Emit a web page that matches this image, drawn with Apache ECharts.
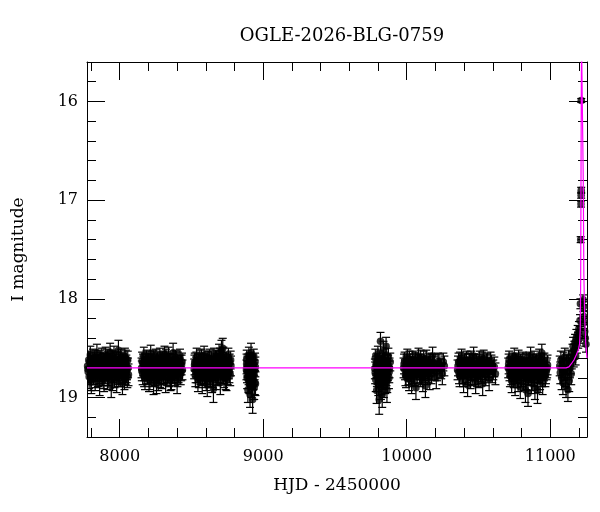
<!DOCTYPE html>
<html>
<head>
<meta charset="utf-8">
<script src="https://cdn.jsdelivr.net/npm/echarts@6/dist/echarts.min.js"></script>
<style>html,body{margin:0;padding:0;background:#fff}#c{width:600px;height:512px}</style>
</head>
<body>
<div id="c"></div>
<script>
// ---- data: [HJD-2450000, I mag, error] ----
const season1 = [[7776,18.68,0.10],[7780,18.74,0.11],[7784,18.62,0.09],[7787,18.79,0.12],[7791,18.70,0.10],[7795,18.57,0.09],[7799,18.82,0.11],[7802,18.84,0.12],[7806,18.66,0.09],[7810,18.71,0.10],[7814,18.60,0.09],[7818,18.76,0.11],[7822,18.69,0.10],[7825,18.63,0.09],[7829,18.81,0.12],[7833,18.73,0.10],[7837,18.67,0.10],[7841,18.55,0.09],[7845,18.72,0.11],[7848,18.78,0.11],[7852,18.65,0.09],[7856,18.70,0.10],[7860,18.86,0.12],[7864,18.61,0.09],[7868,18.74,0.10],[7871,18.68,0.10],[7875,18.59,0.09],[7879,18.77,0.11],[7883,18.71,0.10],[7887,18.64,0.09],[7891,18.82,0.12],[7894,18.69,0.10],[7898,18.75,0.11],[7902,18.58,0.09],[7906,18.66,0.10],[7910,18.73,0.10],[7914,18.80,0.12],[7918,18.62,0.09],[7921,18.70,0.10],[7925,18.77,0.11],[7929,18.65,0.10],[7933,18.54,0.09],[7937,18.72,0.10],[7941,18.88,0.12],[7945,18.68,0.10],[7948,18.61,0.09],[7952,18.74,0.11],[7956,18.70,0.10],[7960,18.57,0.09],[7964,18.79,0.11],[7968,18.66,0.10],[7972,18.72,0.10],[7975,18.63,0.09],[7979,18.83,0.12],[7983,18.69,0.10],[7987,18.76,0.11],[7991,18.52,0.10],[7995,18.71,0.10],[7999,18.65,0.09],[8003,18.78,0.11],[8007,18.60,0.09],[8011,18.73,0.10],[8015,18.68,0.10],[8019,18.85,0.12],[8023,18.64,0.09],[8027,18.74,0.11],[8031,18.70,0.10],[8036,18.59,0.09],[8041,18.76,0.11],[8046,18.67,0.10],[8051,18.72,0.10],[8056,18.62,0.09],[8061,18.77,0.11]];
const season1b = [[7778,18.71,0.10],[7789,18.64,0.09],[7797,18.76,0.11],[7808,18.68,0.10],[7816,18.73,0.10],[7827,18.61,0.09],[7835,18.79,0.11],[7843,18.70,0.10],[7850,18.66,0.10],[7858,18.75,0.11],[7866,18.63,0.09],[7877,18.72,0.10],[7885,18.80,0.11],[7896,18.65,0.10],[7904,18.71,0.10],[7912,18.60,0.09],[7920,18.77,0.11],[7927,18.69,0.10],[7935,18.64,0.09],[7943,18.74,0.10],[7950,18.81,0.12],[7958,18.67,0.10],[7966,18.62,0.09],[7977,18.73,0.10],[7985,18.68,0.10],[7993,18.78,0.11],[8001,18.70,0.10],[8009,18.63,0.09],[8017,18.75,0.11],[8025,18.66,0.10],[8033,18.80,0.12],[8038,18.69,0.10],[8043,18.61,0.09],[8048,18.74,0.11],[8053,18.79,0.11],[8058,18.70,0.10]];
const season2 = [[8152,18.70,0.10],[8156,18.63,0.09],[8160,18.76,0.11],[8164,18.68,0.10],[8168,18.58,0.09],[8172,18.73,0.10],[8176,18.80,0.12],[8180,18.66,0.10],[8184,18.71,0.10],[8188,18.61,0.09],[8192,18.75,0.11],[8196,18.69,0.10],[8200,18.64,0.09],[8204,18.82,0.12],[8208,18.72,0.10],[8212,18.67,0.10],[8216,18.56,0.09],[8220,18.74,0.11],[8224,18.78,0.11],[8228,18.65,0.09],[8232,18.70,0.10],[8236,18.85,0.12],[8240,18.62,0.09],[8244,18.73,0.10],[8248,18.68,0.10],[8252,18.60,0.09],[8256,18.86,0.10],[8260,18.71,0.10],[8264,18.63,0.09],[8268,18.81,0.12],[8272,18.69,0.10],[8276,18.75,0.11],[8280,18.59,0.09],[8284,18.66,0.10],[8288,18.72,0.10],[8292,18.79,0.12],[8296,18.62,0.09],[8300,18.70,0.10],[8304,18.76,0.11],[8308,18.65,0.10],[8312,18.57,0.09],[8316,18.71,0.10],[8320,18.83,0.12],[8324,18.67,0.10],[8328,18.62,0.09],[8332,18.74,0.11],[8336,18.70,0.10],[8340,18.58,0.09],[8344,18.78,0.11],[8348,18.66,0.10],[8352,18.72,0.10],[8356,18.64,0.09],[8360,18.80,0.12],[8364,18.69,0.10],[8368,18.75,0.11],[8372,18.55,0.10],[8376,18.71,0.10],[8380,18.65,0.09],[8384,18.77,0.11],[8388,18.61,0.09],[8392,18.73,0.10],[8396,18.68,0.10],[8400,18.84,0.12],[8405,18.63,0.09],[8410,18.74,0.11],[8415,18.70,0.10],[8420,18.60,0.09],[8425,18.76,0.11],[8431,18.67,0.10],[8437,18.72,0.10]];
const season2b = [[8154,18.73,0.10],[8162,18.65,0.09],[8170,18.78,0.11],[8178,18.70,0.10],[8186,18.62,0.09],[8194,18.76,0.11],[8202,18.68,0.10],[8210,18.80,0.12],[8218,18.66,0.10],[8226,18.72,0.10],[8234,18.61,0.09],[8242,18.77,0.11],[8250,18.70,0.10],[8258,18.64,0.09],[8266,18.74,0.11],[8274,18.67,0.10],[8282,18.79,0.11],[8290,18.71,0.10],[8298,18.63,0.09],[8306,18.75,0.11],[8314,18.68,0.10],[8322,18.60,0.09],[8330,18.77,0.11],[8338,18.72,0.10],[8346,18.65,0.09],[8354,18.81,0.12],[8362,18.70,0.10],[8370,18.66,0.10],[8378,18.74,0.11],[8386,18.69,0.10],[8394,18.62,0.09],[8402,18.78,0.11],[8412,18.71,0.10],[8422,18.67,0.10],[8428,18.73,0.10],[8434,18.64,0.09]];
const season3 = [[8519,18.71,0.10],[8523,18.64,0.09],[8527,18.78,0.11],[8532,18.69,0.10],[8536,18.59,0.09],[8540,18.74,0.11],[8545,18.82,0.12],[8549,18.66,0.10],[8553,18.72,0.10],[8558,18.61,0.09],[8562,18.76,0.11],[8566,18.70,0.10],[8571,18.64,0.09],[8575,18.84,0.12],[8579,18.73,0.10],[8584,18.67,0.10],[8588,18.57,0.09],[8592,18.75,0.11],[8597,18.79,0.11],[8601,18.65,0.09],[8605,18.71,0.10],[8610,18.87,0.12],[8614,18.62,0.09],[8618,18.74,0.10],[8623,18.68,0.10],[8627,18.60,0.09],[8631,18.78,0.11],[8636,18.72,0.10],[8640,18.63,0.09],[8644,18.83,0.12],[8649,18.69,0.10],[8653,18.91,0.14],[8657,18.59,0.09],[8662,18.66,0.10],[8666,18.73,0.10],[8670,18.80,0.12],[8675,18.62,0.09],[8679,18.70,0.10],[8683,18.77,0.11],[8688,18.65,0.10],[8692,18.55,0.09],[8696,18.71,0.10],[8701,18.85,0.12],[8705,18.67,0.10],[8709,18.52,0.10],[8714,18.75,0.11],[8718,18.50,0.10],[8722,18.58,0.09],[8727,18.79,0.11],[8731,18.66,0.10],[8735,18.72,0.10],[8740,18.63,0.09],[8744,18.81,0.12],[8748,18.69,0.10],[8753,18.76,0.11],[8757,18.60,0.10],[8761,18.71,0.10],[8766,18.65,0.09],[8770,18.77,0.11],[8775,18.68,0.10]];
const season3b = [[8521,18.67,0.10],[8529,18.74,0.11],[8534,18.63,0.09],[8543,18.70,0.10],[8551,18.79,0.11],[8556,18.66,0.10],[8564,18.73,0.10],[8569,18.60,0.09],[8577,18.77,0.11],[8582,18.69,0.10],[8590,18.64,0.09],[8595,18.72,0.10],[8603,18.81,0.12],[8608,18.67,0.10],[8616,18.70,0.10],[8621,18.62,0.09],[8629,18.76,0.11],[8634,18.68,0.10],[8642,18.73,0.10],[8647,18.79,0.11],[8655,18.65,0.10],[8660,18.71,0.10],[8668,18.61,0.09],[8673,18.76,0.11],[8681,18.69,0.10],[8686,18.74,0.11],[8694,18.66,0.10],[8699,18.59,0.09],[8707,18.72,0.10],[8712,18.68,0.10],[8720,18.63,0.09],[8725,18.75,0.11],[8733,18.70,0.10],[8738,18.80,0.12],[8746,18.64,0.09],[8751,18.71,0.10],[8759,18.67,0.10],[8764,18.74,0.11],[8773,18.62,0.09]];
const season4 = [[8883,18.72,0.10],[8885,18.61,0.09],[8888,18.80,0.11],[8890,18.68,0.10],[8893,18.92,0.13],[8895,18.65,0.09],[8898,18.76,0.11],[8900,18.58,0.09],[8903,18.84,0.12],[8905,18.70,0.10],[8908,18.97,0.13],[8910,18.63,0.09],[8913,18.78,0.11],[8915,18.55,0.10],[8918,18.88,0.12],[8920,18.69,0.10],[8923,18.74,0.11],[8926,19.02,0.14],[8928,18.66,0.10],[8931,18.81,0.11],[8934,18.60,0.09],[8937,18.90,0.12],[8940,18.72,0.10],[8943,18.64,0.09],[8946,18.86,0.12]];
const season4b = [[8884,18.66,0.10],[8887,18.74,0.11],[8892,18.70,0.10],[8897,18.83,0.12],[8902,18.64,0.09],[8907,18.77,0.11],[8912,18.71,0.10],[8917,18.68,0.10],[8922,18.80,0.11],[8927,18.73,0.10],[8932,18.67,0.10],[8936,18.76,0.11],[8941,18.85,0.12],[8945,18.69,0.10]];
const season5 = [[9778,18.71,0.10],[9781,18.60,0.09],[9784,18.82,0.12],[9787,18.68,0.10],[9790,18.93,0.13],[9793,18.64,0.09],[9796,18.76,0.11],[9799,18.57,0.09],[9802,18.86,0.12],[9805,18.70,0.10],[9808,19.02,0.15],[9811,18.62,0.09],[9814,18.79,0.11],[9817,18.43,0.09],[9820,18.90,0.12],[9823,18.67,0.10],[9826,18.74,0.11],[9829,18.97,0.13],[9832,18.65,0.10],[9835,18.81,0.11],[9838,18.52,0.09],[9841,18.88,0.12],[9844,18.72,0.10],[9847,18.63,0.09],[9850,18.84,0.12],[9853,18.69,0.10],[9856,18.48,0.09],[9859,18.77,0.11],[9862,18.92,0.13],[9865,18.66,0.10],[9868,18.73,0.10],[9872,18.59,0.09],[9876,18.80,0.11],[9880,18.70,0.10],[9885,18.64,0.09]];
const season5b = [[9780,18.75,0.11],[9786,18.66,0.10],[9792,18.78,0.11],[9798,18.70,0.10],[9804,18.82,0.12],[9810,18.69,0.10],[9816,18.74,0.11],[9822,18.85,0.12],[9828,18.68,0.10],[9834,18.72,0.10],[9840,18.79,0.11],[9846,18.66,0.10],[9852,18.76,0.11],[9858,18.71,0.10],[9864,18.83,0.12],[9870,18.67,0.10],[9878,18.74,0.11]];
const season6 = [[9978,18.70,0.10],[9985,18.63,0.09],[9991,18.77,0.11],[9998,18.68,0.10],[10004,18.60,0.09],[10010,18.73,0.10],[10016,18.81,0.12],[10022,18.66,0.10],[10028,18.71,0.10],[10034,18.85,0.11],[10040,18.62,0.09],[10046,18.75,0.11],[10052,18.69,0.10],[10058,18.64,0.09],[10064,18.90,0.12],[10070,18.72,0.10],[10076,18.67,0.10],[10082,18.59,0.09],[10088,18.74,0.11],[10094,18.78,0.11],[10100,18.65,0.09],[10106,18.70,0.10],[10112,18.82,0.12],[10118,18.62,0.09],[10124,18.73,0.10],[10130,18.88,0.12],[10136,18.61,0.09],[10142,18.76,0.11],[10148,18.71,0.10],[10154,18.64,0.09],[10160,18.80,0.12],[10166,18.69,0.10],[10172,18.75,0.11],[10180,18.58,0.09],[10188,18.66,0.10],[10196,18.73,0.10],[10206,18.79,0.12],[10218,18.64,0.09],[10232,18.70,0.10],[10248,18.76,0.11],[10262,18.68,0.10]];
const season6b = [[9981,18.66,0.10],[9988,18.72,0.10],[9995,18.79,0.11],[10001,18.65,0.09],[10007,18.70,0.10],[10013,18.76,0.11],[10019,18.62,0.09],[10025,18.74,0.10],[10031,18.68,0.10],[10037,18.78,0.11],[10043,18.66,0.10],[10049,18.71,0.10],[10055,18.77,0.11],[10061,18.63,0.09],[10067,18.69,0.10],[10073,18.75,0.11],[10079,18.70,0.10],[10085,18.66,0.10],[10091,18.72,0.10],[10097,18.61,0.09],[10103,18.76,0.11],[10109,18.68,0.10],[10115,18.73,0.10],[10121,18.67,0.10],[10127,18.71,0.10],[10139,18.69,0.10],[10151,18.74,0.11],[10163,18.65,0.09],[10176,18.72,0.10],[10192,18.68,0.10],[10212,18.73,0.10],[10225,18.66,0.10],[10240,18.71,0.10],[10255,18.64,0.09]];
const season7 = [[10354,18.72,0.10],[10361,18.64,0.09],[10368,18.78,0.11],[10375,18.69,0.10],[10382,18.60,0.09],[10389,18.75,0.11],[10396,18.83,0.12],[10403,18.66,0.10],[10410,18.71,0.10],[10417,18.62,0.09],[10424,18.87,0.12],[10431,18.70,0.10],[10438,18.64,0.09],[10445,18.80,0.11],[10452,18.73,0.10],[10459,18.67,0.10],[10466,18.58,0.09],[10473,18.76,0.11],[10480,18.84,0.12],[10487,18.65,0.09],[10494,18.70,0.10],[10501,18.79,0.11],[10508,18.62,0.09],[10515,18.74,0.10],[10522,18.68,0.10],[10529,18.86,0.12],[10536,18.61,0.09],[10543,18.72,0.10],[10550,18.77,0.11],[10557,18.66,0.10],[10565,18.70,0.10],[10574,18.81,0.12],[10584,18.63,0.09],[10596,18.74,0.11],[10610,18.69,0.10],[10618,18.76,0.11]];
const season7b = [[10357,18.68,0.10],[10364,18.75,0.11],[10371,18.63,0.09],[10378,18.71,0.10],[10385,18.67,0.10],[10392,18.78,0.11],[10399,18.70,0.10],[10406,18.64,0.09],[10413,18.74,0.11],[10420,18.69,0.10],[10427,18.76,0.11],[10434,18.66,0.10],[10441,18.72,0.10],[10448,18.62,0.09],[10455,18.77,0.11],[10462,18.70,0.10],[10469,18.65,0.09],[10476,18.73,0.10],[10483,18.68,0.10],[10490,18.78,0.11],[10497,18.71,0.10],[10504,18.66,0.10],[10511,18.69,0.10],[10518,18.75,0.11],[10525,18.63,0.09],[10532,18.72,0.10],[10539,18.67,0.10],[10546,18.74,0.11],[10553,18.69,0.10],[10561,18.64,0.09],[10570,18.73,0.10],[10579,18.70,0.10],[10590,18.67,0.10],[10603,18.72,0.10]];
const season8 = [[10707,18.70,0.10],[10713,18.62,0.09],[10719,18.78,0.11],[10725,18.68,0.10],[10731,18.83,0.12],[10737,18.64,0.09],[10743,18.74,0.10],[10749,18.59,0.09],[10755,18.86,0.12],[10761,18.70,0.10],[10767,18.66,0.10],[10773,18.79,0.11],[10779,18.61,0.09],[10785,18.73,0.10],[10791,18.89,0.12],[10797,18.68,0.10],[10803,18.75,0.11],[10809,18.63,0.09],[10815,18.81,0.12],[10821,18.70,0.10],[10827,18.92,0.13],[10833,18.65,0.10],[10839,18.76,0.11],[10845,18.96,0.13],[10851,18.67,0.10],[10857,18.72,0.10],[10863,18.58,0.09],[10869,18.84,0.12],[10875,18.69,0.10],[10881,18.77,0.11],[10887,18.62,0.09],[10893,18.90,0.12],[10899,18.71,0.10],[10905,18.66,0.10],[10911,18.93,0.13],[10917,18.74,0.11],[10923,18.60,0.09],[10929,18.80,0.12],[10935,18.68,0.10],[10941,18.55,0.09],[10947,18.85,0.12],[10953,18.70,0.10],[10959,18.64,0.09],[10966,18.78,0.11],[10974,18.72,0.10],[10981,18.67,0.10]];
const season8b = [[10710,18.66,0.10],[10716,18.73,0.10],[10722,18.69,0.10],[10728,18.76,0.11],[10734,18.71,0.10],[10740,18.67,0.10],[10746,18.79,0.11],[10752,18.72,0.10],[10758,18.64,0.09],[10764,18.75,0.11],[10770,18.70,0.10],[10776,18.82,0.12],[10782,18.68,0.10],[10788,18.74,0.11],[10794,18.65,0.09],[10800,18.78,0.11],[10806,18.71,0.10],[10812,18.69,0.10],[10818,18.76,0.11],[10824,18.66,0.10],[10830,18.73,0.10],[10836,18.80,0.12],[10842,18.70,0.10],[10848,18.77,0.11],[10854,18.63,0.09],[10860,18.74,0.11],[10866,18.69,0.10],[10872,18.81,0.12],[10878,18.66,0.10],[10884,18.72,0.10],[10890,18.78,0.11],[10896,18.67,0.10],[10902,18.74,0.11],[10908,18.70,0.10],[10914,18.83,0.12],[10920,18.69,0.10],[10926,18.75,0.11],[10932,18.64,0.09],[10938,18.72,0.10],[10944,18.78,0.11],[10950,18.66,0.10],[10956,18.73,0.10],[10962,18.69,0.10],[10970,18.75,0.11],[10978,18.70,0.10]];
const season9 = [[11066,18.68,0.10],[11070,18.75,0.11],[11074,18.62,0.09],[11079,18.80,0.12],[11083,18.70,0.10],[11088,18.85,0.12],[11092,18.64,0.10],[11097,18.73,0.10],[11101,18.59,0.09],[11106,18.78,0.11],[11110,18.88,0.12],[11115,18.67,0.10],[11119,18.72,0.10],[11123,18.92,0.12],[11128,18.61,0.09],[11132,18.83,0.11],[11137,18.70,0.10],[11141,18.66,0.10],[11146,18.76,0.11],[11150,18.62,0.09],[11155,18.55,0.09],[11159,18.48,0.09],[11164,18.60,0.09],[11168,18.52,0.09],[11173,18.44,0.08],[11177,18.58,0.09],[11182,18.39,0.08],[11186,18.47,0.08],[11191,18.35,0.08],[11195,18.42,0.08],[11200,18.30,0.07],[11204,18.38,0.07],[11207,18.22,0.06],[11210,18.05,0.05],[11212,17.40,0.03],[11214,17.04,0.03],[11215,16.95,0.03],[11215.5,16.90,0.03],[11216,15.99,0.02],[11229,18.01,0.05],[11231,18.08,0.05],[11234,18.18,0.06],[11237,18.24,0.06],[11240,18.33,0.07],[11244,18.40,0.08],[11249,18.46,0.08]];

// model light curve (magenta)
const modelCurve = [[7772,18.70],[11110,18.70],[11130,18.69],[11146,18.66],[11165,18.62],[11181,18.57],[11195,18.52],[11204,18.46],[11209,18.30],[11212,17.80],[11214,16.90],[11216,16.00],[11218,15.40],[11226,15.40],[11230,16.80],[11234,17.75],[11240,18.20],[11247,18.45],[11256,18.60]];

// axis ticks
const xMajorTicks = [8000, 9000, 10000, 11000];
const xMinorTicks = [7800, 8200, 8400, 8600, 8800, 9200, 9400, 9600, 9800, 10200, 10400, 10600, 10800, 11200];
const yMajorTicks = [16, 17, 18, 19];
const yMinorTicks = [15.8, 16.2, 16.4, 16.6, 16.8, 17.2, 17.4, 17.6, 17.8, 18.2, 18.4, 18.6, 18.8, 19.2];

const X_MIN = 7772, X_MAX = 11256, Y_MIN = 15.6, Y_MAX = 19.4;
const FONT = 'DejaVu Serif';

const points = [].concat(season1, season1b, season2, season2b, season3, season3b, season4, season4b,
  season5, season5b, season6, season6b, season7, season7b, season8, season8b, season9);

function xAx(pos, ticks, len, showLine, labels) {
  return {
    type: 'value', position: pos, min: X_MIN, max: X_MAX,
    axisLine: { show: showLine, onZero: false, lineStyle: { color: '#000', width: 1 } },
    axisTick: { show: true, inside: true, length: len, customValues: ticks, lineStyle: { color: '#000', width: 1 } },
    axisLabel: labels ? { show: true, customValues: ticks, formatter: v => String(v), color: '#000', fontFamily: FONT, fontSize: 16, margin: 12 } : { show: false },
    splitLine: { show: false },
    name: labels ? 'HJD - 2450000' : '',
    nameLocation: 'middle', nameGap: 40,
    nameTextStyle: { color: '#000', fontFamily: FONT, fontSize: 17 }
  };
}
function yAx(pos, ticks, len, showLine, labels) {
  return {
    type: 'value', position: pos, min: Y_MIN, max: Y_MAX, inverse: true,
    axisLine: { show: showLine, onZero: false, lineStyle: { color: '#000', width: 1 } },
    axisTick: { show: true, inside: true, length: len, customValues: ticks, lineStyle: { color: '#000', width: 1 } },
    axisLabel: labels ? { show: true, customValues: ticks, formatter: v => String(v), color: '#000', fontFamily: FONT, fontSize: 16, margin: 9 } : { show: false },
    splitLine: { show: false },
    name: labels ? 'I magnitude' : '',
    nameLocation: 'middle', nameGap: 60, nameRotate: 90,
    nameTextStyle: { color: '#000', fontFamily: FONT, fontSize: 17 }
  };
}

const chart = echarts.init(document.getElementById('c'), null, { renderer: 'canvas' });
chart.setOption({
  animation: false,
  backgroundColor: '#fff',
  title: {
    text: 'OGLE-2026-BLG-0759', left: 337, top: 22, textAlign: 'center',
    textStyle: { color: '#000', fontFamily: FONT, fontSize: 18, fontWeight: 'normal' }
  },
  grid: { left: 87, right: 13, top: 62, bottom: 75, containLabel: false, outerBoundsMode: 'none' },
  xAxis: [
    xAx('bottom', xMajorTicks, 18, true, true),
    xAx('bottom', xMinorTicks, 9, false, false),
    xAx('top', xMajorTicks, 18, true, false),
    xAx('top', xMinorTicks, 9, false, false)
  ],
  yAxis: [
    yAx('left', yMajorTicks, 18, true, true),
    yAx('left', yMinorTicks, 9, false, false),
    yAx('right', yMajorTicks, 18, true, false),
    yAx('right', yMinorTicks, 9, false, false)
  ],
  series: [
    {
      type: 'custom', xAxisIndex: 0, yAxisIndex: 0, clip: true, z: 2,
      data: points,
      encode: { x: 0, y: 1 },
      renderItem: function (params, api) {
        const t = api.value(0), m = api.value(1), e = api.value(2);
        const a = api.coord([t, m - e]);
        const b = api.coord([t, m + e]);
        const hw = 4;
        const st = { stroke: '#000', lineWidth: 1.2 };
        return {
          type: 'group', children: [
            { type: 'line', shape: { x1: a[0], y1: a[1], x2: b[0], y2: b[1] }, style: st },
            { type: 'line', shape: { x1: a[0] - hw, y1: a[1], x2: a[0] + hw, y2: a[1] }, style: st },
            { type: 'line', shape: { x1: b[0] - hw, y1: b[1], x2: b[0] + hw, y2: b[1] }, style: st }
          ]
        };
      }
    },
    {
      type: 'scatter', xAxisIndex: 0, yAxisIndex: 0, z: 3,
      data: points.map(p => [p[0], p[1]]),
      symbol: 'circle', symbolSize: 7.5,
      itemStyle: { color: '#000' }
    },
    {
      type: 'line', xAxisIndex: 0, yAxisIndex: 0, z: 5, clip: true,
      data: modelCurve, showSymbol: false, smooth: false,
      lineStyle: { color: '#ff00ff', width: 1.2 }
    }
  ]
});
</script>
</body>
</html>
